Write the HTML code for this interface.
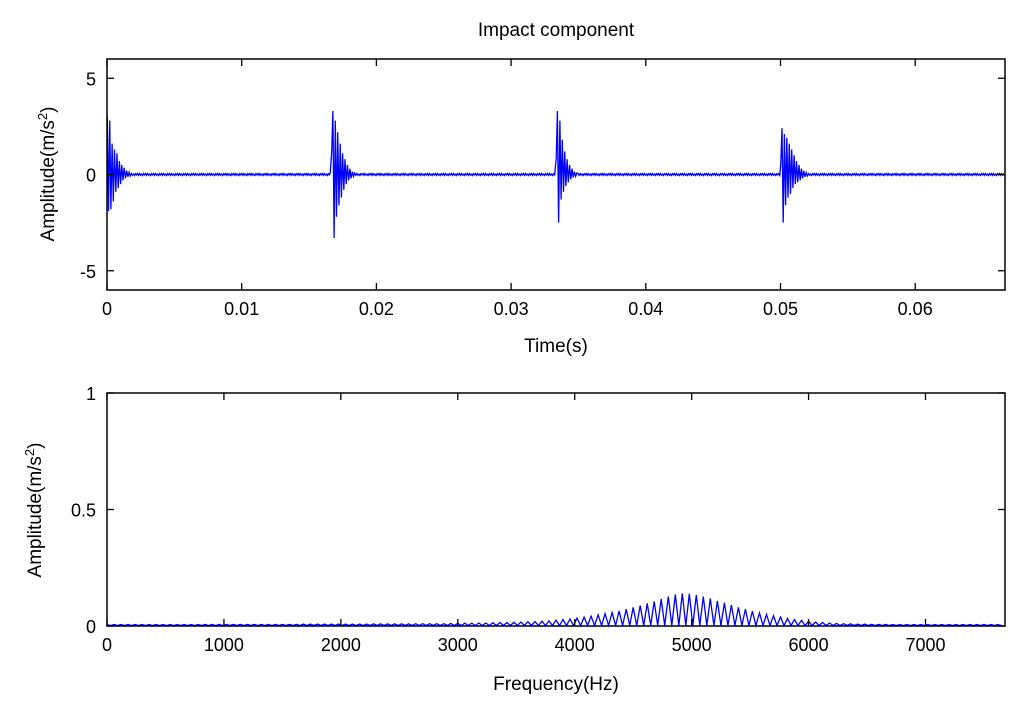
<!DOCTYPE html>
<html><head><meta charset="utf-8"><style>
html,body{margin:0;padding:0;background:#fff;}
svg{display:block;font-family:"Liberation Sans",Arial,sans-serif;}
</style></head><body>
<svg id="chart" width="1024" height="715" viewBox="0 0 1024 715" xmlns="http://www.w3.org/2000/svg">
<rect width="1024" height="715" fill="#fff"/>
<text x="556" y="36" font-size="19" text-anchor="middle" fill="#000">Impact component</text>
<g id="gtop"></g>
<g id="gbot"></g>
</svg>
<script>
// ---- Top: time signal data ----
const impactTimes = [0.00002, 0.01668, 0.03335, 0.05002];
const impact1 = [3.0,-1.9,2.8,-1.8,1.6,-1.4,1.3,-0.9,1.1,-0.7,0.7,-0.5,0.5,-0.3,0.35,-0.2,0.2,-0.12,0.12,-0.08];
const impact2 = [1.2,3.3,-3.3,2.8,-2.2,2.2,-1.6,1.6,-1.2,1.1,-0.8,0.8,-0.5,0.5,-0.3,0.3,-0.2,0.15,-0.1,0.08];
const impact3 = [0.8,3.3,-2.5,2.8,-1.3,1.8,-0.9,1.2,-0.6,0.8,-0.4,0.5,-0.25,0.3,-0.15,0.15,-0.1,0.08];
const impact4 = [0.6,2.4,-2.5,2.1,-1.6,1.9,-1.2,1.6,-1.0,1.3,-0.7,1.0,-0.5,0.7,-0.4,0.5,-0.3,0.3,-0.2,0.2,-0.12,0.1,-0.08];
const impacts = [impact1, impact2, impact3, impact4];
const noise = [0.05,-0.03,0.02,-0.05,0.04,-0.02,0.05,-0.04];
const timeTicks = [0, 0.01, 0.02, 0.03, 0.04, 0.05, 0.06];
const timeTickLabels = ["0","0.01","0.02","0.03","0.04","0.05","0.06"];
const ampTicks = [-5, 0, 5];
// ---- Bottom: spectrum data (harmonics every 60 Hz) ----
const harmonicSpacing = 60;
const harmonicAmps = [
0.006,0.006,0.006,0.006,0.006,0.006,0.006,0.006,0.006,0.006,
0.006,0.006,0.006,0.006,0.007,0.007,0.007,0.007,
0.007,0.007,0.007,0.007,0.007,0.007,0.007,0.007,0.007,0.007,
0.008,0.008,0.008,0.008,0.008,0.008,0.008,0.008,0.008,0.008,
0.009,0.009,0.009,0.009,0.009,0.009,0.01,0.01,0.01,0.01,
0.01,0.011,0.011,0.012,0.012,0.013,0.013,0.014,0.015,0.015,
0.016,0.017,0.018,0.019,0.02,0.022,0.025,0.028,0.03,0.034,
0.038,0.042,0.048,0.053,0.058,0.065,0.072,0.08,0.088,0.097,
0.106,0.116,0.126,0.135,0.14,0.138,0.133,0.126,0.118,0.108,
0.1,0.09,0.08,0.072,0.064,0.056,0.05,0.044,0.038,0.033,
0.028,0.024,0.02,0.017,0.015,0.013,0.011,0.01,0.009,0.008,
0.008,0.007,0.007,0.007,0.006,0.006,0.006,0.006,0.006,0.006,
0.006,0.006,0.006,0.006,0.006,0.006,0.006,0.006,0.006,0.006];
const freqTicks = [0,1000,2000,3000,4000,5000,6000,7000];
const specTicks = [0, 0.5, 1];
const specTickLabels = ["0","0.5","1"];

const NS = "http://www.w3.org/2000/svg";
function mk(parent, tag, attrs, text){
  const e = document.createElementNS(NS, tag);
  for (const k in attrs) e.setAttribute(k, attrs[k]);
  if (text !== undefined) e.textContent = text;
  parent.appendChild(e);
  return e;
}
const L = 107, R = 1005;
const T1 = 59, B1 = 290, xMax1 = 1/15;
const xT = t => L + (t / xMax1) * (R - L);
const yT = v => (T1 + B1) / 2 - v / 6 * ((B1 - T1) / 2);
const T2 = 393, B2 = 626, xMax2 = 7680;
const xF = f => L + (f / xMax2) * (R - L);
const yF = v => B2 - v * (B2 - T2);

const gTop = document.getElementById('gtop');
const gBot = document.getElementById('gbot');

let pts = [];
const dt = 0.0000745;
const impStep = 0.00009;
let nextImpact = 0;
let ni = 0;
let tt = 0;
while (tt < xMax1) {
  if (nextImpact < impactTimes.length && tt >= impactTimes[nextImpact] - dt) {
    const t0 = Math.max(tt, impactTimes[nextImpact]);
    const arr = impacts[nextImpact];
    for (let j = 0; j < arr.length; j++) {
      pts.push(xT(t0 + j * impStep).toFixed(1) + "," + yT(arr[j]).toFixed(1));
    }
    tt = t0 + arr.length * impStep;
    nextImpact++;
  } else {
    pts.push(xT(tt).toFixed(1) + "," + yT(noise[ni % noise.length]).toFixed(1));
    ni++;
    tt += dt;
  }
}
const sig = mk(gTop, 'polyline', {points: pts.join(' '), fill: 'none', stroke: '#0000ff', 'stroke-width': 1.3});



let sp = [];
for (let k = 0; k < harmonicAmps.length; k++) {
  const f = k * harmonicSpacing;
  sp.push(xF(f).toFixed(1) + "," + yF(harmonicAmps[k]).toFixed(1));
  sp.push(xF(f + harmonicSpacing / 2).toFixed(1) + "," + yF(0.002).toFixed(1));
}
const spec = mk(gBot, 'polyline', {points: sp.join(' '), fill: 'none', stroke: '#0000ff', 'stroke-width': 1.3});



function axes(g, T, B, name){
  const r = mk(g, 'rect', {x: L, y: T, width: R - L, height: B - T, fill: 'none', stroke: '#000', 'stroke-width': 1.5});
  
  
}
axes(gTop, T1, B1, 'time-plot-frame');
axes(gBot, T2, B2, 'spectrum-plot-frame');

timeTicks.forEach((v, k) => {
  const x = xT(v);
  mk(gTop, 'line', {x1: x, x2: x, y1: B1, y2: B1 - 7, stroke: '#000', 'stroke-width': 1.3});
  mk(gTop, 'line', {x1: x, x2: x, y1: T1, y2: T1 + 7, stroke: '#000', 'stroke-width': 1.3});
  const tx = mk(gTop, 'text', {x: x, y: B1 + 25, 'font-size': 18, 'text-anchor': 'middle'}, timeTickLabels[k]);
  
  
});
ampTicks.forEach(v => {
  const y = yT(v);
  mk(gTop, 'line', {x1: L, x2: L + 7, y1: y, y2: y, stroke: '#000', 'stroke-width': 1.3});
  mk(gTop, 'line', {x1: R, x2: R - 7, y1: y, y2: y, stroke: '#000', 'stroke-width': 1.3});
  const tx = mk(gTop, 'text', {x: 96, y: y + 7, 'font-size': 18, 'text-anchor': 'end'}, String(v));
  
  
});
freqTicks.forEach(v => {
  const x = xF(v);
  mk(gBot, 'line', {x1: x, x2: x, y1: B2, y2: B2 - 7, stroke: '#000', 'stroke-width': 1.3});
  mk(gBot, 'line', {x1: x, x2: x, y1: T2, y2: T2 + 7, stroke: '#000', 'stroke-width': 1.3});
  const tx = mk(gBot, 'text', {x: x, y: B2 + 25, 'font-size': 18, 'text-anchor': 'middle'}, String(v));
  
  
});
specTicks.forEach((v, k) => {
  const y = yF(v);
  mk(gBot, 'line', {x1: L, x2: L + 7, y1: y, y2: y, stroke: '#000', 'stroke-width': 1.3});
  mk(gBot, 'line', {x1: R, x2: R - 7, y1: y, y2: y, stroke: '#000', 'stroke-width': 1.3});
  const tx = mk(gBot, 'text', {x: 96, y: y + 7, 'font-size': 18, 'text-anchor': 'end'}, specTickLabels[k]);
  
  
});
let a = mk(gTop, 'text', {x: 556, y: 352, 'font-size': 19, 'text-anchor': 'middle'}, 'Time(s)');


a = mk(gBot, 'text', {x: 556, y: 690, 'font-size': 19, 'text-anchor': 'middle'}, 'Frequency(Hz)');


function ylab(g, cx, cy){
  const tx = mk(g, 'text', {x: 0, y: 0, 'font-size': 19, 'text-anchor': 'middle', transform: `translate(${cx},${cy}) rotate(-90)`});
  
  
  tx.appendChild(document.createTextNode('Amplitude(m/s'));
  const s = document.createElementNS(NS, 'tspan');
  s.setAttribute('dy', -7); s.setAttribute('font-size', 13); s.textContent = '2';
  tx.appendChild(s);
  const s2 = document.createElementNS(NS, 'tspan');
  s2.setAttribute('dy', 7); s2.textContent = ')';
  tx.appendChild(s2);
}
ylab(gTop, 54, 174);
ylab(gBot, 41, 510);
</script>
</body></html>
